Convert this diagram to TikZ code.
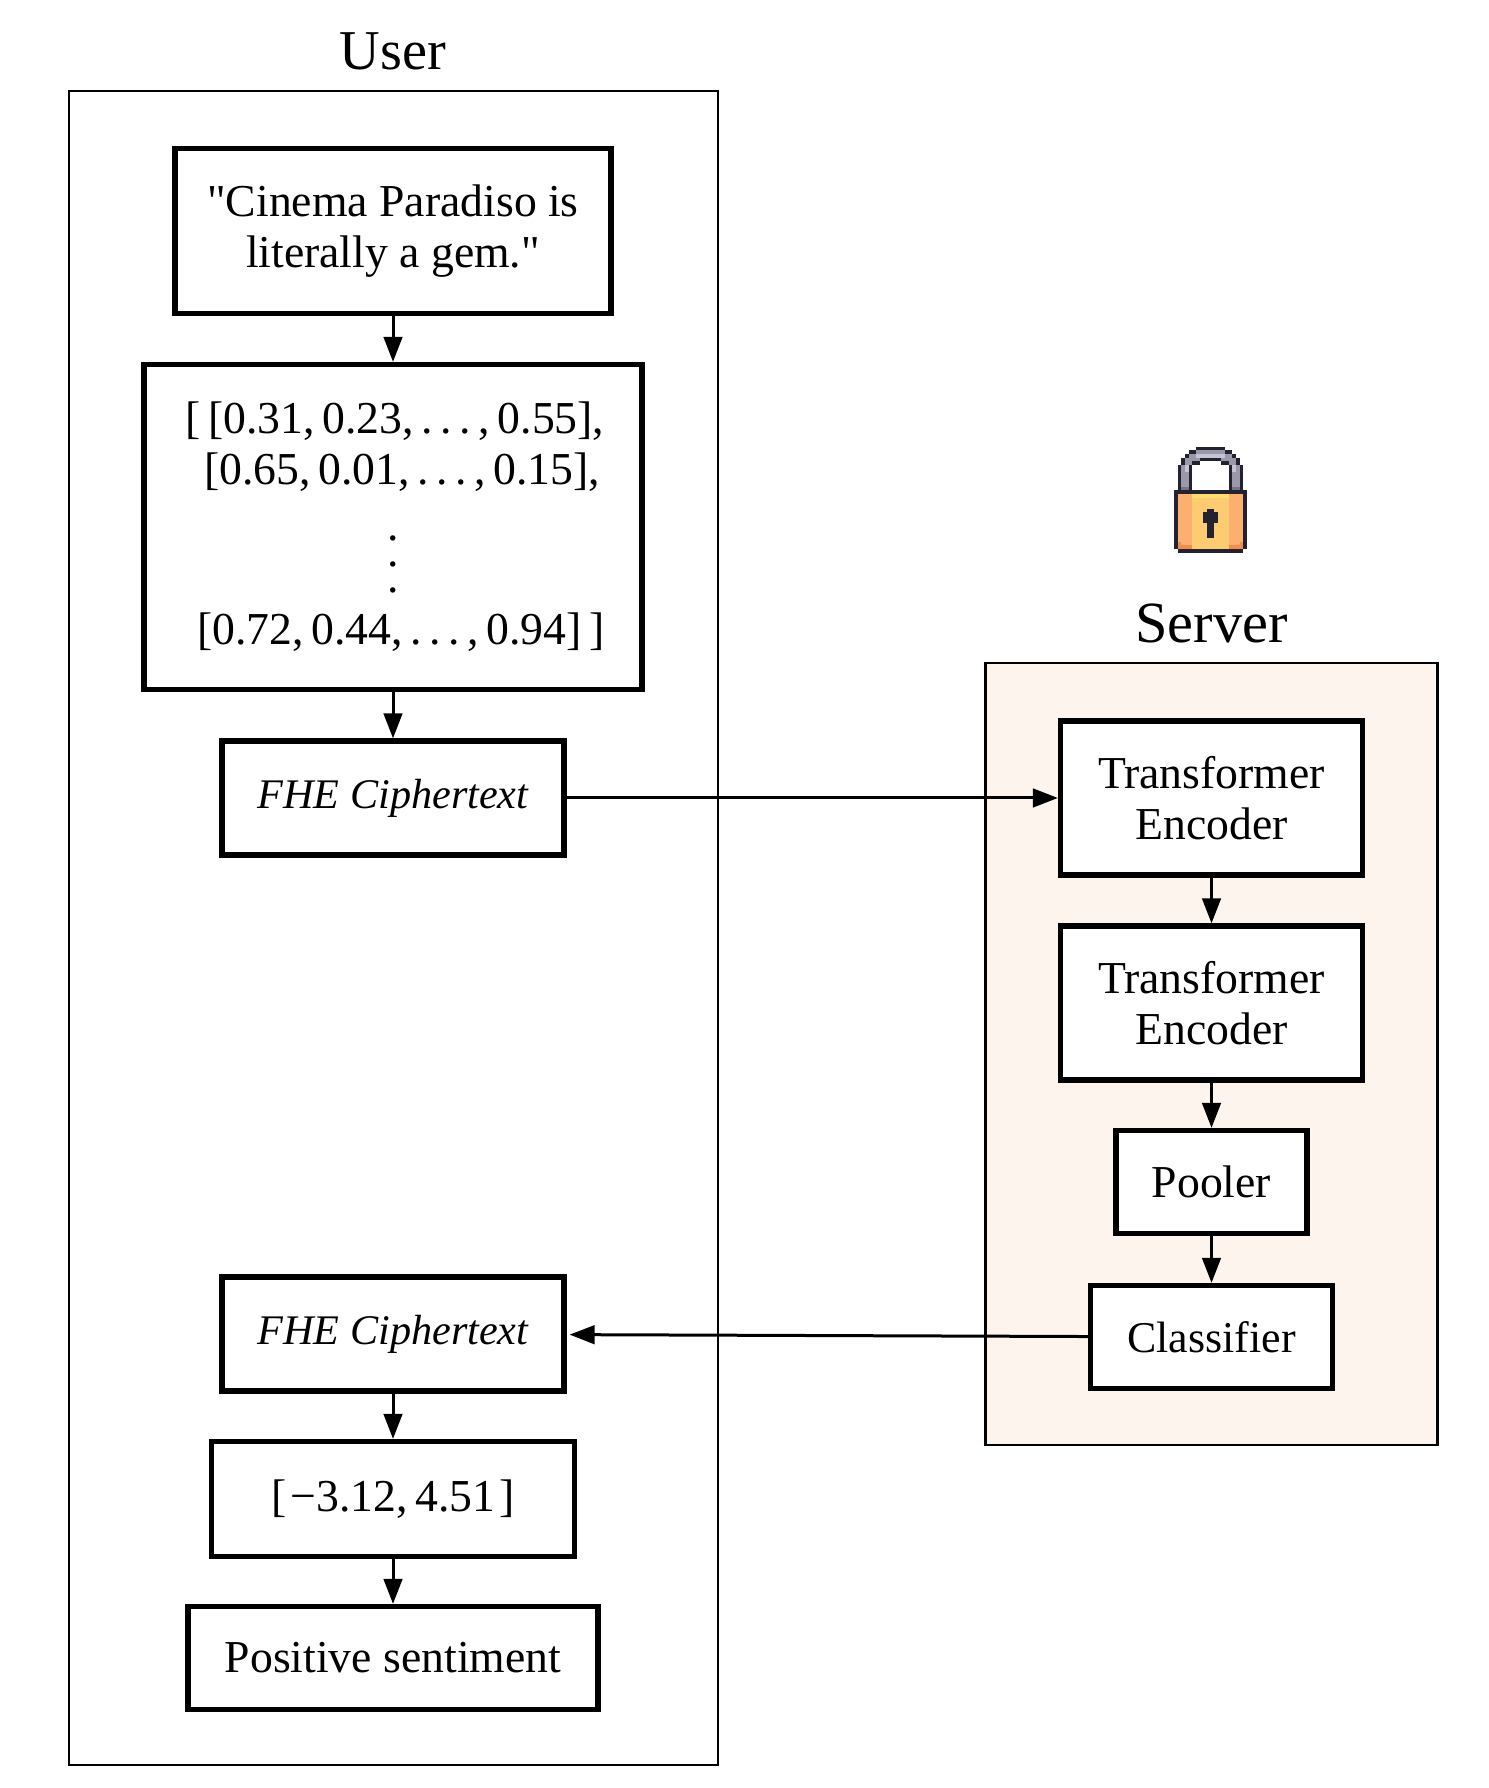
\documentclass[tikz,border=0pt]{standalone}
\usepackage{fontspec}
\setmainfont{Liberation Serif}[Ligatures=TeXOff]
\usetikzlibrary{arrows.meta}
\definecolor{serverfill}{HTML}{FDF4EE}
\definecolor{lockdark}{HTML}{23222E}
\definecolor{lockgray}{HTML}{9A99AB}
\definecolor{lockhigh}{HTML}{C5C5D2}
\definecolor{lockshade}{HTML}{74748A}
\definecolor{lockface}{HTML}{FDCB72}
\definecolor{lockside}{HTML}{FBB06F}
\definecolor{locktop}{HTML}{FFDD6E}
\definecolor{lockrim}{HTML}{F28C50}
\newcommand{\tallvdots}{\vbox{\baselineskip=7.4pt \lineskiplimit=0pt \hbox{.}\hbox{.}\hbox{.}}}
\newcommand{\lockpx}[5]{\fill[#5] (#1,#2) rectangle ++(#3,#4);}
\tikzstyle{block}=[
	rectangle,
	draw=black,
	line width=0.052cm,
	fill=white,
	align=center,
	font=\fontsize{13}{14.4}\selectfont
]
\tikzstyle{cipher}=[
	block,
	minimum width=3.42cm,
	minimum height=1.14cm,
	font=\fontsize{12}{14.4}\selectfont\itshape
]
\tikzstyle{panel}=[
	rectangle,
	draw=black,
	line width=0.024cm
]
\tikzstyle{heading}=[
	font=\fontsize{16}{18}\selectfont
]

\begin{document}
\begin{tikzpicture}[-{Triangle[length=2.5mm,width=1.85mm]},line width=0.03cm]

\useasboundingbox (0,0) rectangle (14.88,17.88);

% User panel
\node[panel,minimum width=6.49cm,minimum height=16.74cm] (user) at (3.935,8.6){};
\node[heading] (userlabel) at (3.93,17.37){User};

% Server panel
\node[panel,fill=serverfill,minimum width=4.52cm,minimum height=7.82cm] (server) at (12.115,7.34){};
\node[heading,font=\fontsize{16.6}{18}\selectfont] (serverlabel) at (12.115,11.65){Server};

% Review text
\node[block,minimum width=4.36cm,minimum height=1.65cm] (review) at (3.93,15.57){"Cinema Paradiso is\\literally a gem."};

% Embeddings
\node[block,minimum width=4.98cm,minimum height=3.25cm] (embedding) at (3.93,12.61){\hspace*{0.4mm}[\,[0.31,\,0.23,\,.\,.\,.\,,\,0.55],\\
	\hspace*{1.8mm}[0.65,\,0.01,\,.\,.\,.\,,\,0.15],\\[11.7pt]
	\tallvdots\\[0.4pt]
	\hspace*{1.6mm}[0.72,\,0.44,\,.\,.\,.\,,\,0.94]\,]};

% Ciphertext sent
\node[cipher] (cipherin) at (3.93,9.90){FHE Ciphertext};

% Ciphertext received
\node[cipher] (cipherout) at (3.93,4.54){FHE Ciphertext};

% Logits
\node[block,minimum width=3.63cm,minimum height=1.15cm] (logits) at (3.93,2.89){[\hspace{0.4mm}−3.12,\,4.51\hspace{0.4mm}]};

% Prediction
\node[block,minimum width=4.10cm,minimum height=1.03cm] (prediction) at (3.93,1.30){Positive sentiment};

% First encoder
\node[block,minimum width=3.02cm,minimum height=1.54cm] (encodera) at (12.115,9.90){Transformer\\Encoder};

% Second encoder
\node[block,minimum width=3.02cm,minimum height=1.54cm] (encoderb) at (12.115,7.85){Transformer\\Encoder};

% Pooler
\node[block,minimum width=1.91cm,minimum height=1.03cm] (pooler) at (12.115,6.06){Pooler};

% Classifier
\node[block,minimum width=2.42cm,minimum height=1.03cm,font=\fontsize{12.5}{14.4}\selectfont] (classifier) at (12.115,4.51){Classifier};

% Flow on the user side
\draw (review) -- (embedding);
\draw (embedding) -- (cipherin);
\draw (cipherout) -- (logits);
\draw (logits) -- (prediction);

% Flow on the server side
\draw (encodera) -- (encoderb);
\draw (encoderb) -- (pooler);
\draw (pooler) -- (classifier);

% Between user and server
\draw (cipherin) -- (encodera);
\draw[shorten >=0.03cm] (classifier) -- (cipherout);

% Lock icon
\begin{scope}[-,shift={(11.74,13.413)},x=0.0365cm,y=-0.0365cm]
\foreach \col/\row/\wide/\high/\tone in {
	6/0/8/1/lockdark, 4/1/12/1/lockdark, 3/2/14/1/lockdark, 2/3/16/2/lockdark, 1/5/18/7/lockdark,
	6/1/8/1/lockgray, 4/2/12/1/lockgray, 3/3/14/2/lockgray, 2/5/16/7/lockgray,
	6/2/8/1/lockhigh, 16/5/1/2/lockhigh, 3/5/1/2/lockhigh,
	2/11/2/1/lockshade, 16/11/2/1/lockshade,
	7/3/6/1/lockdark, 5/4/10/1/lockdark, 4/5/12/7/lockdark,
	7/4/6/1/white, 5/5/10/7/white,
	0/12/20/16/lockdark, 1/28/18/1/lockdark,
	1/13/18/15/lockside, 5/14/10/14/lockface, 5/13/10/1/locktop,
	1/27/4/1/lockrim, 15/27/4/1/lockrim, 1/26/1/1/lockrim, 18/26/1/1/lockrim,
	9/17/2/1/lockdark, 8/18/4/3/lockdark, 9/21/2/4/lockdark}
	{\lockpx{\col}{\row}{\wide}{\high}{\tone}}
\end{scope}

\end{tikzpicture}
\end{document}
